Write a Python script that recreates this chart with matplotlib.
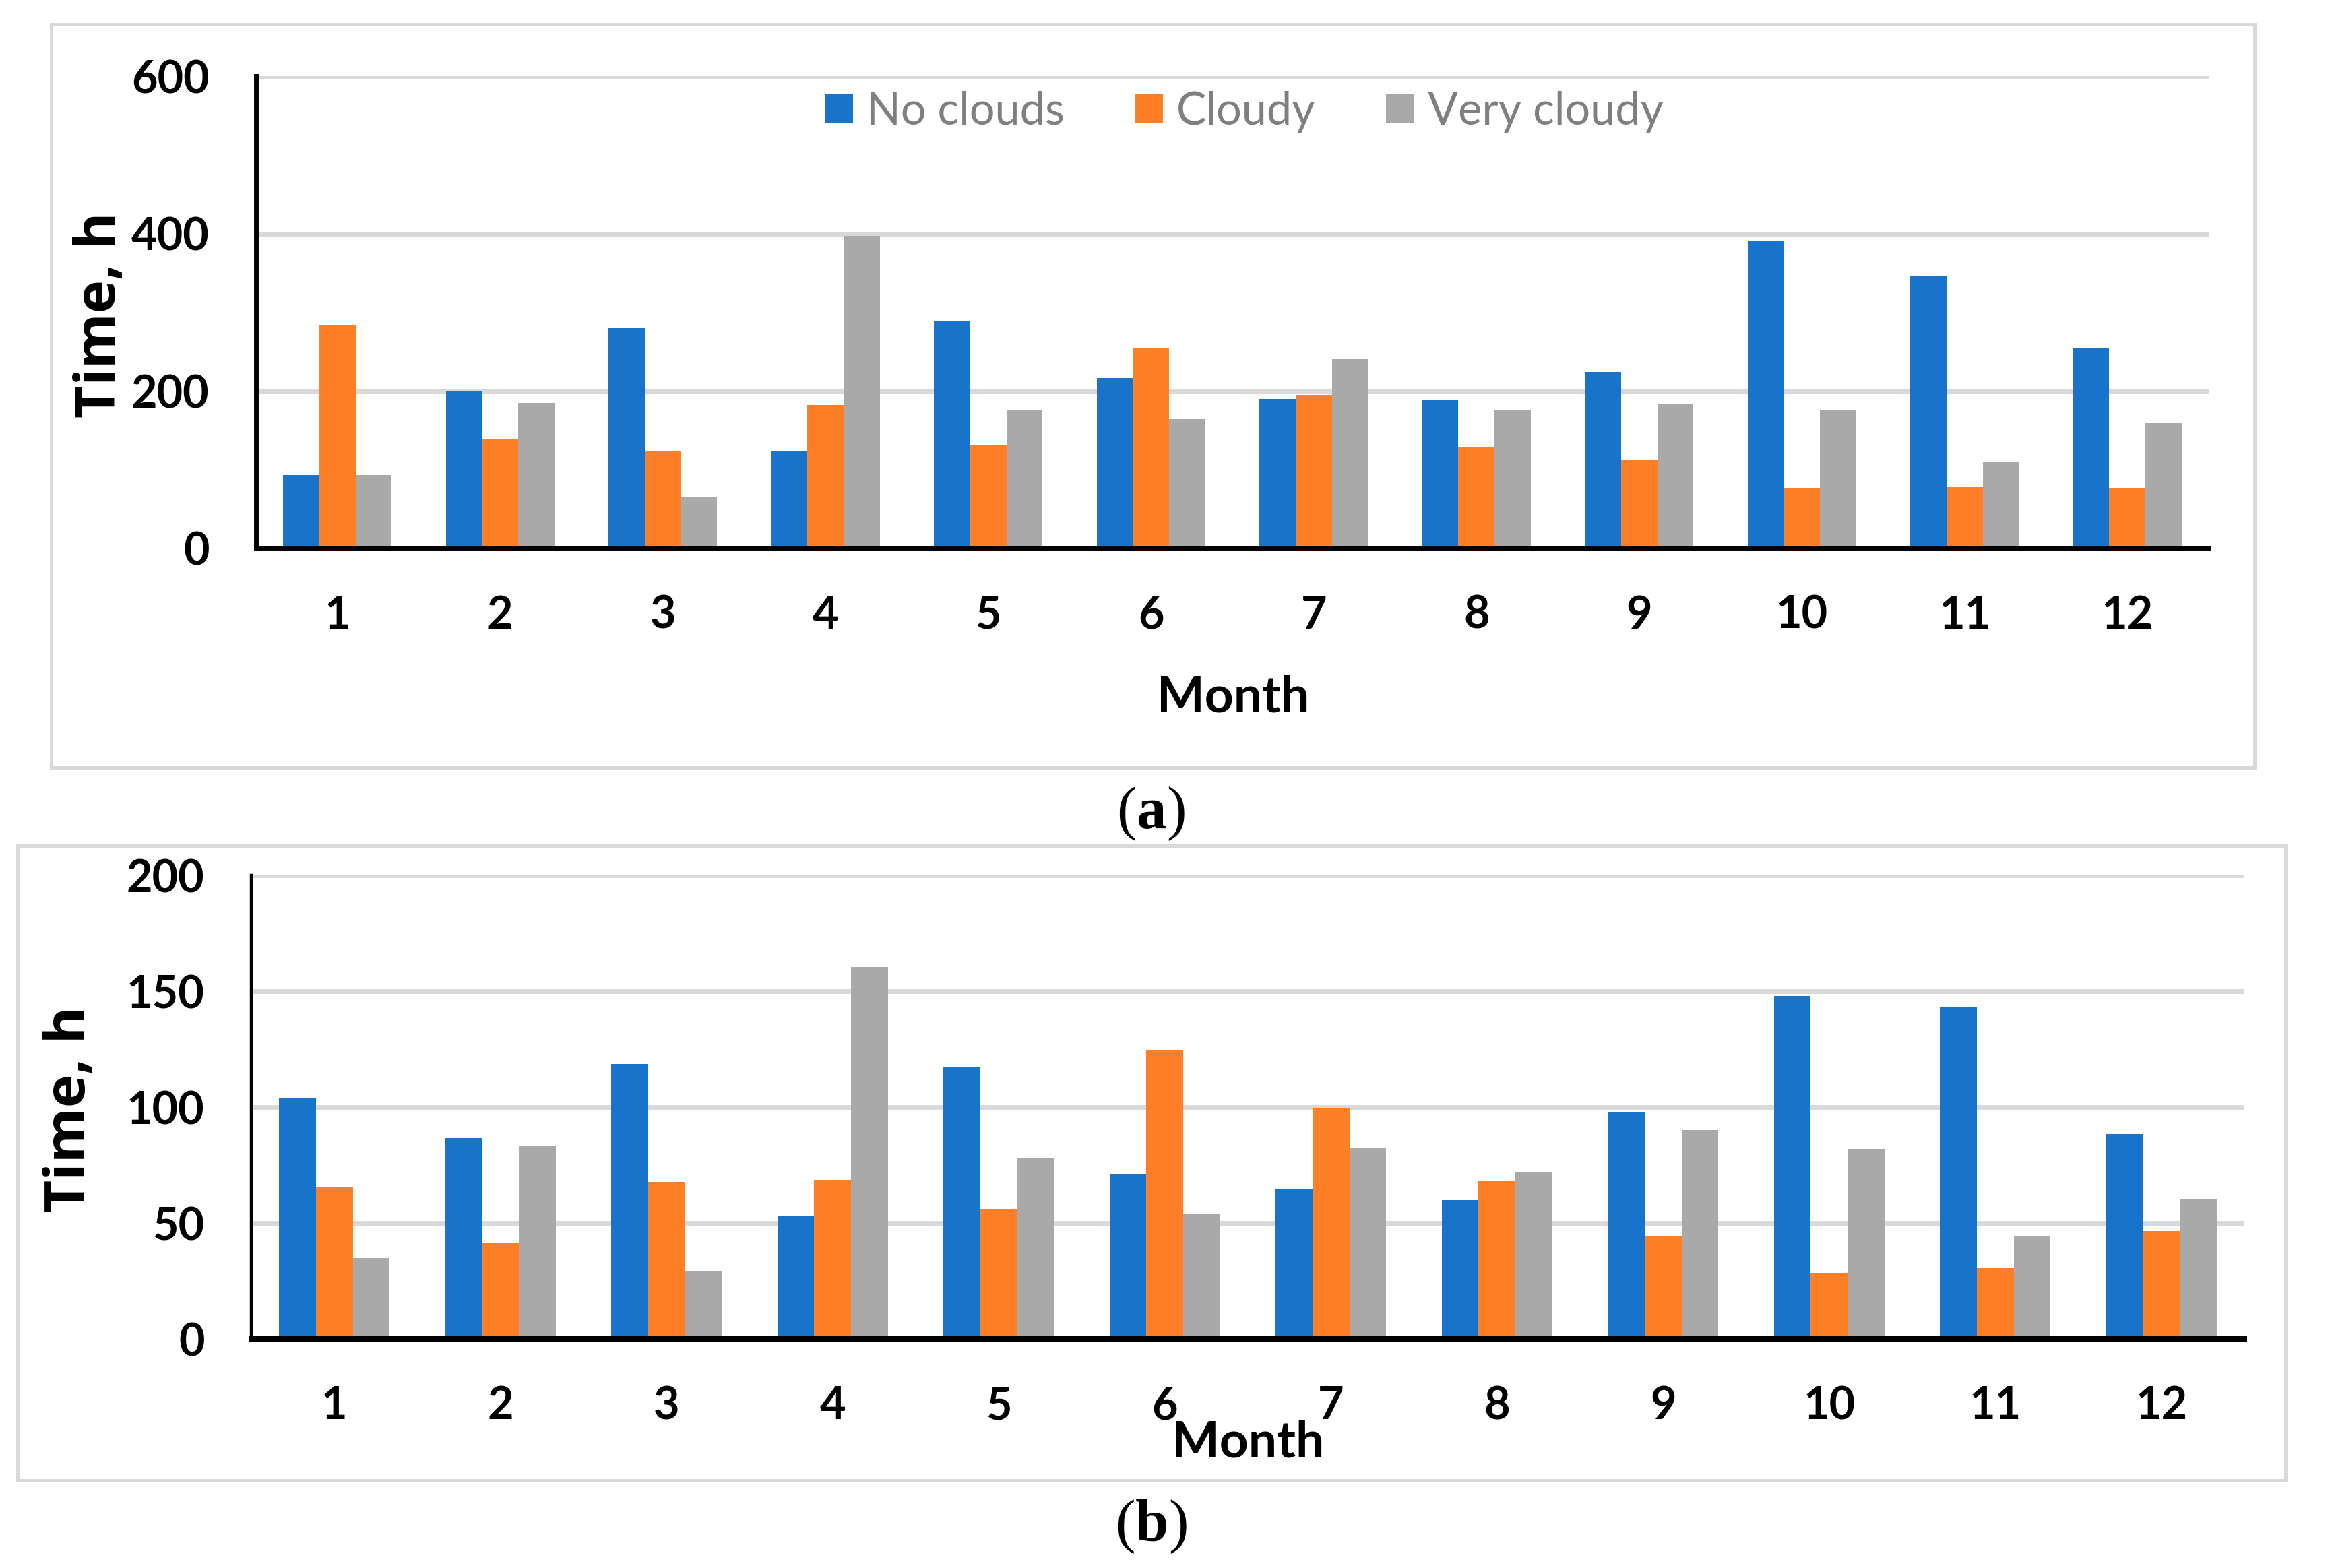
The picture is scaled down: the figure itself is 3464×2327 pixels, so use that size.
import matplotlib
matplotlib.use("Agg")
import matplotlib.pyplot as plt
from matplotlib.patches import Rectangle
import numpy as np

plt.rcParams['font.family'] = ['Lato', 'DejaVu Sans']
plt.rcParams['mathtext.fontset'] = 'custom'
plt.rcParams['mathtext.rm'] = 'Liberation Serif'
plt.rcParams['mathtext.bf'] = 'Liberation Serif:bold'

months = list(range(1, 13))
series = ['No clouds', 'Cloudy', 'Very cloudy']
colors = ['#1874CB', '#FF7F27', '#A9A9A9']

# (a) hours per month
a_no_clouds = [93, 200, 280, 124, 288, 216, 190, 188, 224, 390, 346, 255]
a_cloudy = [283, 139, 124, 182, 131, 255, 195, 128, 112, 77, 78, 77]
a_very_cloudy = [93, 185, 65, 397, 176, 164, 240, 176, 184, 176, 109, 159]

# (b)
b_no_clouds = [104, 86.5, 118.7, 53, 117.3, 70.8, 64.6, 59.8, 97.9, 147.9, 143.3, 88.5]
b_cloudy = [65.4, 41.2, 67.7, 68.5, 56, 124.6, 99.8, 67.9, 44.2, 28.5, 30.6, 46.5]
b_very_cloudy = [35, 83.3, 29.4, 160.6, 78, 53.7, 82.7, 71.7, 90.2, 82, 44.2, 60.6]

grid_color = '#D9D9D9'

fig = plt.figure(figsize=(17.32, 11.635), dpi=200)

# light grey frames round each chart
fig.patches.append(Rectangle((0.02208, 0.51053), 0.94385, 0.47400, transform=fig.transFigure,
                             fill=False, edgecolor=grid_color, linewidth=1.8, zorder=0))
fig.patches.append(Rectangle((0.00765, 0.05608), 0.97156, 0.40481, transform=fig.transFigure,
                             fill=False, edgecolor=grid_color, linewidth=1.8, zorder=0))

ax1 = fig.add_axes([0.10970, 0.65041, 0.83661, 0.30082])
ax2 = fig.add_axes([0.10768, 0.14611, 0.85393, 0.29566])


def draw(ax, data, ymax, ystep, left_lw, bottom_lw):
    x = np.array(months)
    w = 0.222
    for i, vals in enumerate(data):
        ax.bar(x + (i - 1) * w, vals, width=w, color=colors[i], label=series[i], zorder=2)
    ax.set_xlim(0.5, 12.5)
    ax.set_ylim(0, ymax)
    ax.set_xticks(months)
    ax.set_yticks(np.arange(0, ymax + 1, ystep))
    ax.tick_params(length=0, labelsize=24, pad=25)
    for lab in ax.get_xticklabels() + ax.get_yticklabels():
        lab.set_fontweight('bold')
    ax.yaxis.grid(True, color=grid_color, linewidth=2.5, zorder=0)
    ax.set_axisbelow(True)
    for s in ['top', 'right']:
        ax.spines[s].set_visible(False)
    ax.spines['left'].set_linewidth(left_lw)
    ax.spines['bottom'].set_linewidth(bottom_lw)
    ax.spines['left'].set_zorder(3)
    ax.spines['bottom'].set_zorder(3)


draw(ax1, [a_no_clouds, a_cloudy, a_very_cloudy], 600, 200, 2.5, 2.5)
draw(ax2, [b_no_clouds, b_cloudy, b_very_cloudy], 200, 50, 1.6, 2.9)

leg = ax1.legend(loc='center', bbox_to_anchor=(0.506, 0.925), ncol=3, frameon=False,
                 fontsize=24, handlelength=0.63, handleheight=0.63, handletextpad=0.3,
                 columnspacing=1.56, borderpad=0)
for t in leg.get_texts():
    t.set_color('#7F7F7F')

fig.text(0.0433, 0.7993, 'Time, h', rotation=90, ha='center', va='center',
         fontsize=30, fontweight='bold', family=['Open Sans', 'DejaVu Sans'])
fig.text(0.0303, 0.2926, 'Time, h', rotation=90, ha='center', va='center',
         fontsize=30, fontweight='bold', family=['Open Sans', 'DejaVu Sans'])

fig.text(0.5283, 0.5458, 'Month', ha='center', va='baseline', fontsize=27, fontweight='bold')
fig.text(0.5346, 0.0709, 'Month', ha='center', va='baseline', fontsize=27, fontweight='bold')

fig.text(0.4931, 0.4809, r'$(\mathbf{a})$', ha='center', va='center', fontsize=32)
fig.text(0.4931, 0.0266, r'$(\mathbf{b})$', ha='center', va='center', fontsize=32)

fig.savefig('out.png', dpi=200)
